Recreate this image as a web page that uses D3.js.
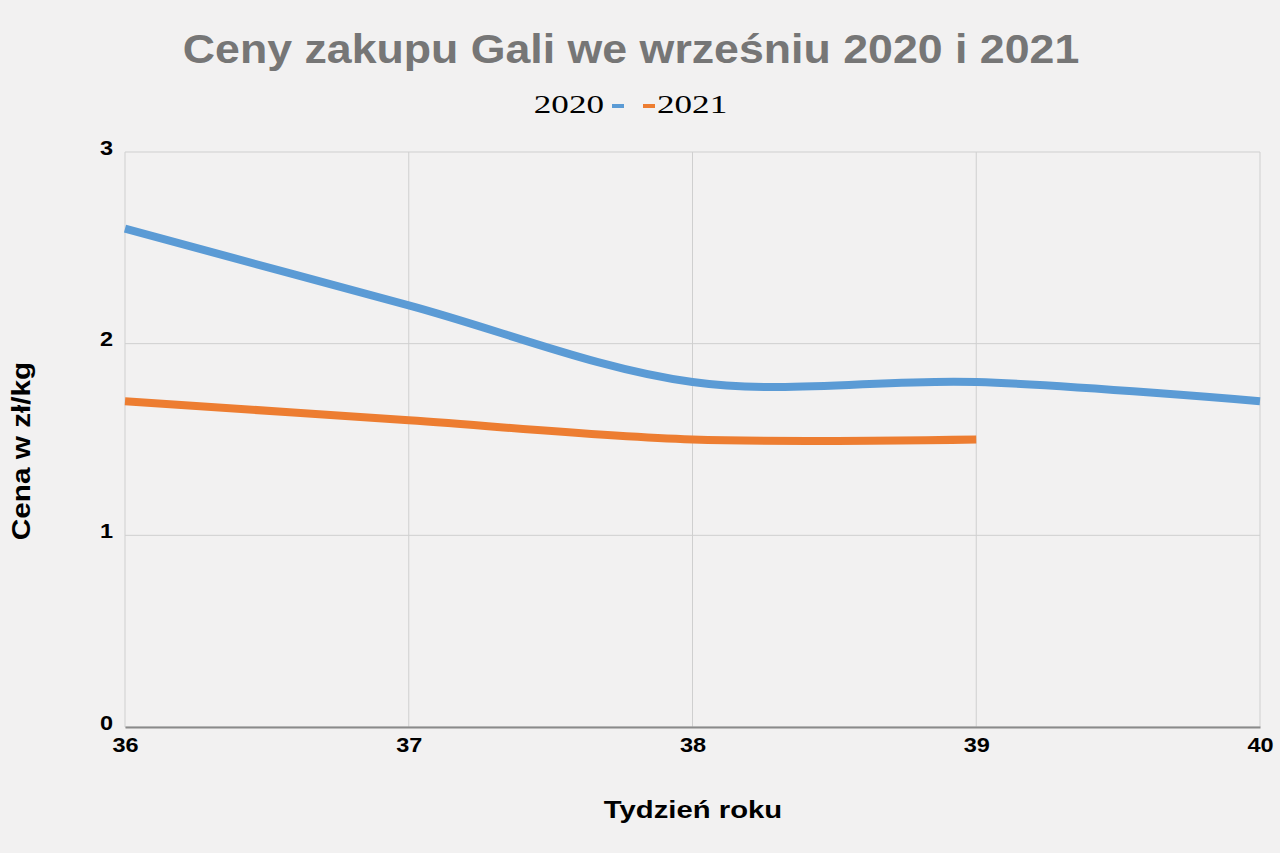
<!DOCTYPE html>
<html>
<head>
<meta charset="utf-8">
<script src="https://cdn.jsdelivr.net/npm/d3@7"></script>
<style>
    body { margin: 0; background: #f2f1f1; }
    #chart { width: 1280px; height: 853px; }
    .grid line { stroke: #cfcfcf; stroke-width: 1; }
    .tick text { font-family: "Liberation Sans", Arial, sans-serif; font-weight: bold; font-size: 21px; fill: #000; }
</style>
</head>
<body>
<div id="chart"></div>
<script>
// data
let weeks = [36, 37, 38, 39, 40];
let yTicks = [0, 1, 2, 3];
let seriesNames = ["2020", "2021"];
let values2020 = [2.6, 2.2, 1.8, 1.8, 1.7];
let values2021 = [1.7, 1.6, 1.5, 1.5];
let colors = ["#5b9bd5", "#ed7d31"];

let margin = {top: 152, right: 20, bottom: 126, left: 125};
let width = 1280 - margin.left - margin.right;
let height = 853 - margin.top - margin.bottom;

let svg = d3.select("#chart").append("svg")
    .attr("width", 1280)
    .attr("height", 853);

let g = svg.append("g")
    .attr("transform", "translate(" + margin.left + "," + margin.top + ")");

let x = d3.scaleLinear().domain([36, 40]).range([0, width]);
let y = d3.scaleLinear().domain([0, 3]).range([height, 0]);

// gridlines
g.append("g").attr("class", "grid")
    .selectAll("line.h")
    .data(yTicks)
    .enter().append("line")
    .attr("x1", 0).attr("x2", width)
    .attr("y1", d => y(d)).attr("y2", d => y(d));

g.append("g").attr("class", "grid")
    .selectAll("line.v")
    .data(weeks)
    .enter().append("line")
    .attr("x1", d => x(d)).attr("x2", d => x(d))
    .attr("y1", 0).attr("y2", height);

// axes (the picture is stretched a bit horizontally, so text gets scaleX)
let xAxis = g.append("g")
    .attr("transform", "translate(0," + height + ")")
    .call(d3.axisBottom(x).tickValues(weeks).tickSize(0).tickPadding(10).tickFormat(d3.format("d")));
xAxis.select(".domain").attr("stroke", "#8a8a8a").attr("stroke-width", 2);
xAxis.selectAll(".tick text").attr("transform", "scale(1.12,1)");

let yAxis = g.append("g")
    .call(d3.axisLeft(y).tickValues(yTicks).tickSize(0).tickPadding(0).tickFormat(d3.format("d")));
yAxis.select(".domain").remove();
yAxis.selectAll(".tick text")
    .attr("x", 0)
    .attr("dy", "0.1em")
    .attr("transform", "translate(-12,0) scale(1.12,1)");

// lines
let line = d3.line()
    .x((d, i) => x(weeks[i]))
    .y(d => y(d))
    .curve(d3.curveCardinal.tension(0));

[values2020, values2021].forEach(function(vals, i) {
    g.append("path")
        .datum(vals)
        .attr("fill", "none")
        .attr("stroke", colors[i])
        .attr("stroke-width", 8)
        .attr("d", line);
});

// title
svg.append("text")
    .attr("transform", "translate(631,63) scale(1.09,1)")
    .attr("text-anchor", "middle")
    .style("font-family", "Liberation Sans, Arial, sans-serif")
    .style("font-weight", "bold")
    .style("font-size", "41px")
    .style("fill", "#767676")
    .text("Ceny zakupu Gali we wrześniu 2020 i 2021");

// legend
let legend = svg.append("g").attr("transform", "translate(0,113)");
legend.append("text")
    .attr("transform", "translate(604,0) scale(1.35,1)")
    .attr("text-anchor", "end")
    .style("font-family", "Liberation Serif, Times New Roman, serif")
    .style("font-size", "26px")
    .text(seriesNames[0]);
legend.append("rect").attr("x", 612).attr("y", -9).attr("width", 12).attr("height", 4).attr("fill", colors[0]);
legend.append("rect").attr("x", 643).attr("y", -9).attr("width", 12).attr("height", 4).attr("fill", colors[1]);
legend.append("text")
    .attr("transform", "translate(657,0) scale(1.35,1)")
    .style("font-family", "Liberation Serif, Times New Roman, serif")
    .style("font-size", "26px")
    .text(seriesNames[1]);

// axis titles
svg.append("text")
    .attr("transform", "translate(693,818) scale(1.22,1)")
    .attr("text-anchor", "middle")
    .style("font-family", "Liberation Sans, Arial, sans-serif")
    .style("font-weight", "bold")
    .style("font-size", "24px")
    .text("Tydzień roku");

svg.append("text")
    .attr("transform", "translate(30,451) rotate(-90) scale(1.19,1)")
    .attr("text-anchor", "middle")
    .style("font-family", "Liberation Sans, Arial, sans-serif")
    .style("font-weight", "bold")
    .style("font-size", "25px")
    .text("Cena w zł/kg");
</script>
</body>
</html>
